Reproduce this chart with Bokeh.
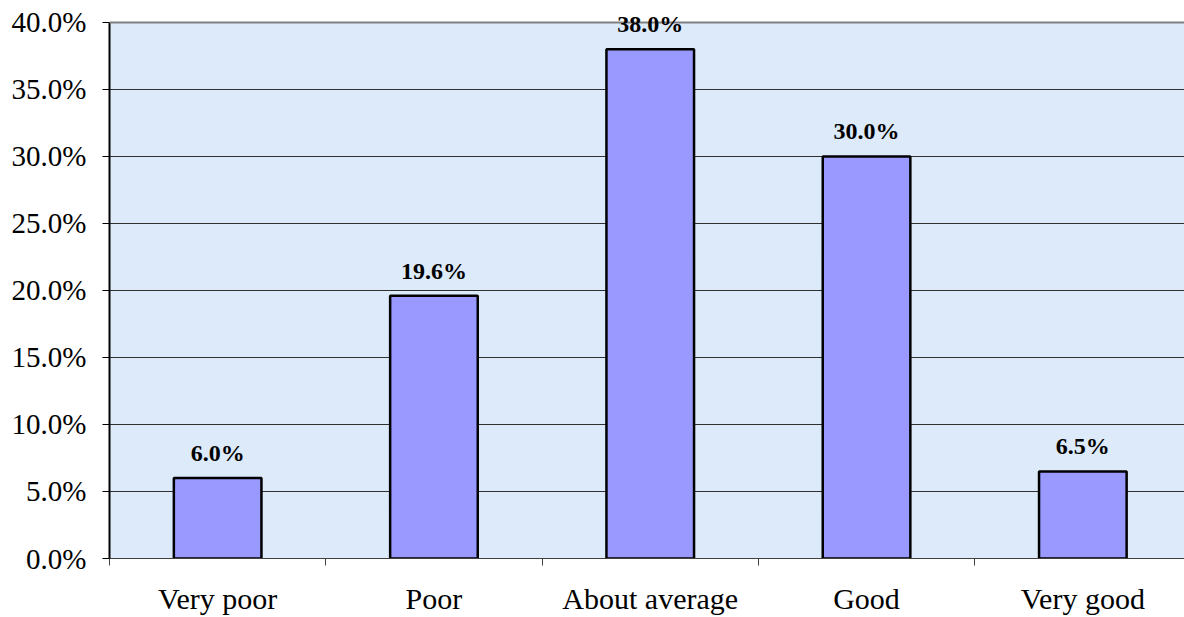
from bokeh.plotting import figure
from bokeh.models import (ColumnDataSource, Range1d, FixedTicker, NumeralTickFormatter,
                          Label, BoxAnnotation, Span)
from bokeh.embed import file_html
from bokeh.resources import INLINE

categories = ["Very poor", "Poor", "About average", "Good", "Very good"]
shares = [0.060, 0.196, 0.380, 0.300, 0.065]
share_labels = ["6.0%", "19.6%", "38.0%", "30.0%", "6.5%"]
y_ticks = [0.0, 0.05, 0.10, 0.15, 0.20, 0.25, 0.30, 0.35, 0.40]

xpos = [i + 0.5 for i in range(len(categories))]
src = ColumnDataSource(dict(x=xpos, top=shares, lab=share_labels))

y_top = y_ticks[-1]
# small headroom above the 40% border so the top value label is not clipped
p = figure(width=1184, height=617, output_backend="svg", toolbar_location=None,
           x_range=Range1d(0, 4.97), y_range=Range1d(0, y_top * 1.0298),
           min_border_left=109, min_border_right=0, min_border_top=6, min_border_bottom=59)

p.background_fill_color = "white"
p.border_fill_color = "white"
p.outline_line_color = None

# plot-area background (0 .. 40%)
p.add_layout(BoxAnnotation(bottom=0, top=y_top, fill_color="#DCEAFA", fill_alpha=1.0,
                           line_color=None, level="image"))

p.vbar(x="x", top="top", bottom=0, width=0.405, source=src,
       fill_color="#9999FF", line_color="black", line_width=2.5)

# top border of the plot area
p.add_layout(Span(location=y_top, dimension="width", line_color="#808080", line_width=2))

for xv, yv, lab in zip(xpos, shares, share_labels):
    p.add_layout(Label(x=xv, y=yv, text=lab, y_offset=25,
                       text_align="center", text_baseline="alphabetic",
                       text_font="Liberation Serif", text_font_style="bold",
                       text_font_size="24px", text_color="black"))

# x axis
p.xaxis.ticker = FixedTicker(ticks=xpos, minor_ticks=[0, 1, 2, 3, 4, 5])
p.xaxis.major_label_overrides = {x: c for x, c in zip(xpos, categories)}
p.xaxis.major_tick_line_color = None
p.xaxis.minor_tick_line_color = "#404040"
p.xaxis.minor_tick_out = 7
p.xaxis.minor_tick_in = 0
p.xaxis.axis_line_color = "#404040"
p.xaxis.axis_line_width = 1
p.xaxis.major_label_standoff = 16
p.xaxis.major_label_text_font = "Liberation Serif"
p.xaxis.major_label_text_font_size = "30px"
p.xaxis.major_label_text_color = "black"

# y axis
p.yaxis.ticker = FixedTicker(ticks=y_ticks)
p.yaxis.bounds = (0, y_top)
p.yaxis.formatter = NumeralTickFormatter(format="0.0%")
p.yaxis.minor_tick_line_color = None
p.yaxis.major_tick_out = 7
p.yaxis.major_tick_in = 0
p.yaxis.major_tick_line_color = "black"
p.yaxis.axis_line_color = "black"
p.yaxis.axis_line_width = 2
p.yaxis.major_label_standoff = 16
p.yaxis.major_label_text_font = "Liberation Serif"
p.yaxis.major_label_text_font_size = "29px"
p.yaxis.major_label_text_color = "black"

p.xgrid.grid_line_color = None
p.ygrid.ticker = FixedTicker(ticks=y_ticks[1:-1])
p.ygrid.grid_line_color = "#303030"
p.ygrid.grid_line_width = 1

open("out.html", "w").write(file_html(p, INLINE))
